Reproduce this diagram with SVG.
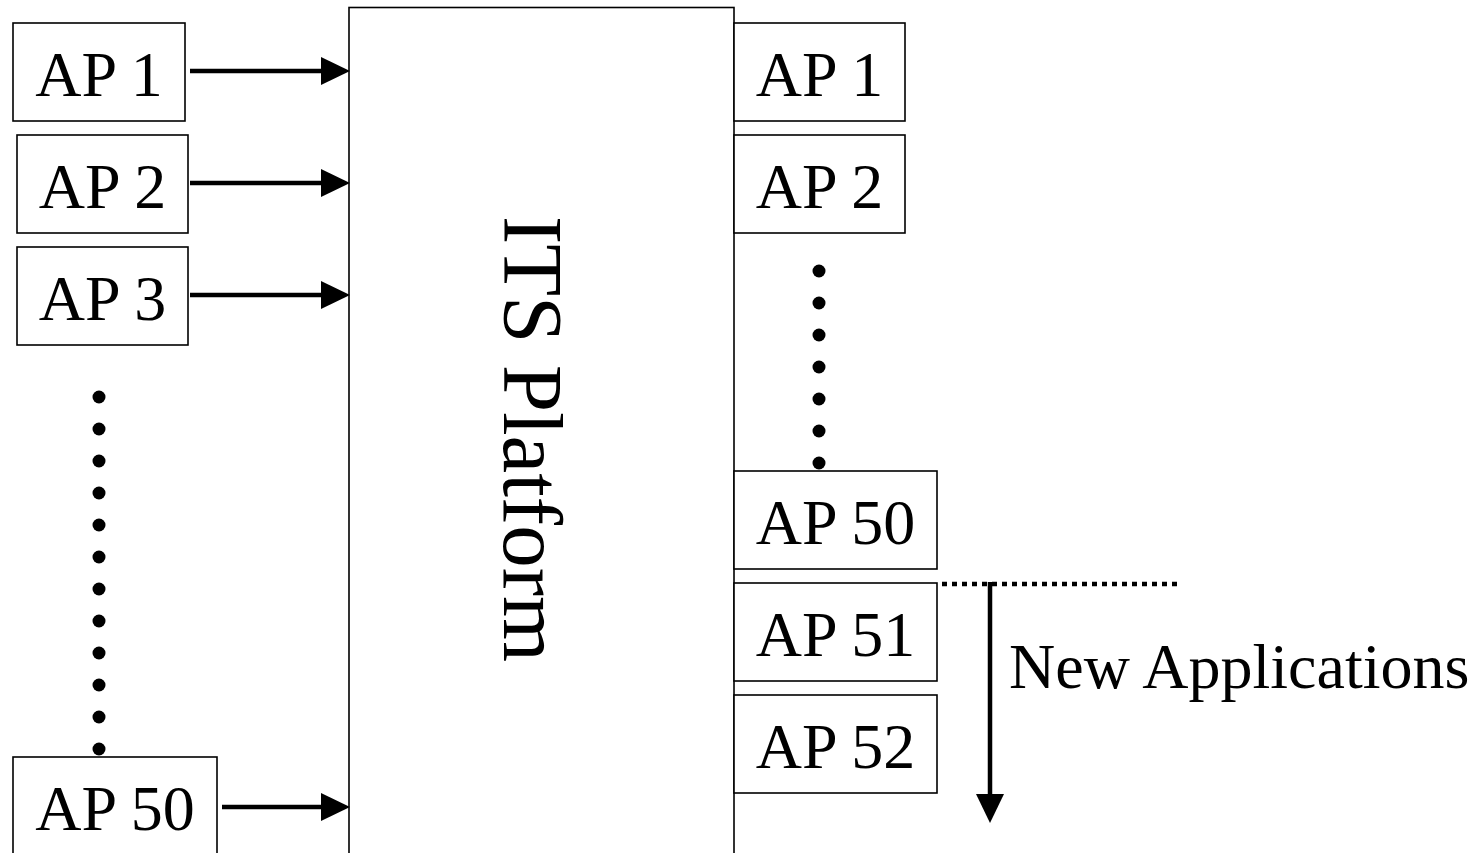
<svg xmlns="http://www.w3.org/2000/svg" width="1483" height="853" viewBox="0 0 1483 853">
<style>
.box{fill:#fff;stroke:#000;stroke-width:1.6}
.lbl{font-family:"Liberation Serif","Times New Roman",serif;font-size:64px;fill:#000;text-anchor:middle}
.arr{stroke:#000;stroke-width:4.5;fill:none}
.dot{fill:#000}
</style>
<defs>
<marker id="ah" viewBox="0 0 29 28" refX="0" refY="14" markerWidth="29" markerHeight="28" markerUnits="userSpaceOnUse" orient="auto">
<path d="M0,0 L29,14 L0,28 Z" fill="#000"/>
</marker>
</defs>
<rect width="1483" height="853" fill="#fff"/>
<g id="platform">
<rect class="box" x="349" y="7.5" width="385" height="860"/>
<text font-family="Liberation Serif, Times New Roman, serif" font-size="85" text-anchor="middle" transform="translate(504,439) rotate(90)">ITS Platform</text>
</g>
<g id="l_ap1"><rect class="box" x="13" y="23" width="172" height="98"/><text class="lbl" x="99" y="96">AP 1</text></g>
<g id="l_ap2"><rect class="box" x="17" y="135" width="171" height="98"/><text class="lbl" x="102.5" y="208">AP 2</text></g>
<g id="l_ap3"><rect class="box" x="17" y="247" width="171" height="98"/><text class="lbl" x="102.5" y="320">AP 3</text></g>
<g id="l_dots">
<circle class="dot" cx="99" cy="397" r="6.5"/><circle class="dot" cx="99" cy="429" r="6.5"/><circle class="dot" cx="99" cy="461" r="6.5"/><circle class="dot" cx="99" cy="493" r="6.5"/><circle class="dot" cx="99" cy="525" r="6.5"/><circle class="dot" cx="99" cy="557" r="6.5"/><circle class="dot" cx="99" cy="589" r="6.5"/><circle class="dot" cx="99" cy="621" r="6.5"/><circle class="dot" cx="99" cy="653" r="6.5"/><circle class="dot" cx="99" cy="685" r="6.5"/><circle class="dot" cx="99" cy="717" r="6.5"/><circle class="dot" cx="99" cy="749" r="6.5"/>
</g>
<g id="l_ap50"><rect class="box" x="13" y="757" width="204" height="110"/><text class="lbl" x="115" y="830">AP 50</text></g>
<g id="r_ap1"><rect class="box" x="734" y="23" width="171" height="98"/><text class="lbl" x="819.5" y="96">AP 1</text></g>
<g id="r_ap2"><rect class="box" x="734" y="135" width="171" height="98"/><text class="lbl" x="819.5" y="208">AP 2</text></g>
<g id="r_dots">
<circle class="dot" cx="819" cy="271" r="6.5"/><circle class="dot" cx="819" cy="303" r="6.5"/><circle class="dot" cx="819" cy="335" r="6.5"/><circle class="dot" cx="819" cy="367" r="6.5"/><circle class="dot" cx="819" cy="399" r="6.5"/><circle class="dot" cx="819" cy="431" r="6.5"/><circle class="dot" cx="819" cy="463" r="6.5"/>
</g>
<g id="r_ap50"><rect class="box" x="734" y="471" width="203" height="98"/><text class="lbl" x="835.5" y="544">AP 50</text></g>
<g id="r_ap51"><rect class="box" x="734" y="583" width="203" height="98"/><text class="lbl" x="835.5" y="656">AP 51</text></g>
<g id="r_ap52"><rect class="box" x="734" y="695" width="203" height="98"/><text class="lbl" x="835.5" y="768">AP 52</text></g>
<g id="new_apps">
<text font-family="Liberation Serif, Times New Roman, serif" font-size="64" x="1009" y="688">New Applications</text>
</g>
<g id="connectors">
<line class="arr" x1="190" y1="71" x2="321" y2="71" marker-end="url(#ah)"/>
<line class="arr" x1="190" y1="183" x2="321" y2="183" marker-end="url(#ah)"/>
<line class="arr" x1="190" y1="295" x2="321" y2="295" marker-end="url(#ah)"/>
<line class="arr" x1="222" y1="807" x2="321" y2="807" marker-end="url(#ah)"/>
<line x1="942" y1="584" x2="1182" y2="584" stroke="#000" stroke-width="4.5" stroke-dasharray="5 5"/>
<line class="arr" x1="990" y1="582" x2="990" y2="794" marker-end="url(#ah)"/>
</g>
</svg>
